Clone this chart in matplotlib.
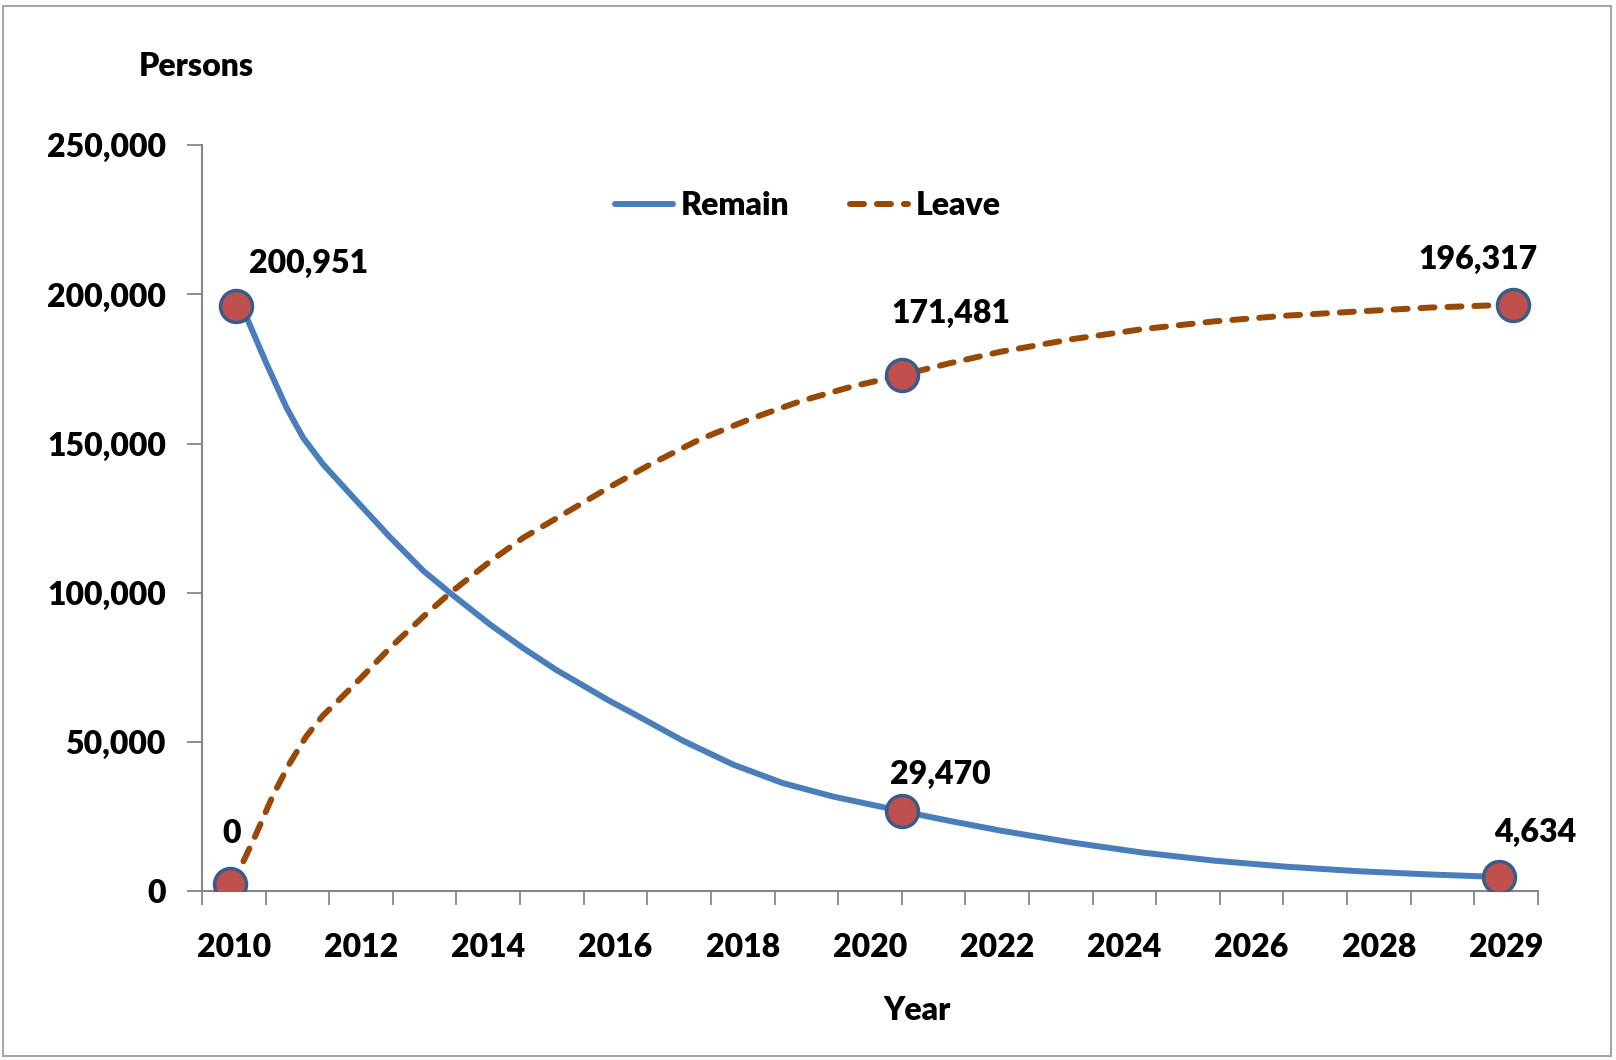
import matplotlib.pyplot as plt
from matplotlib.patches import Rectangle

plt.rcParams['font.family'] = ['Lato', 'DejaVu Sans']
plt.rcParams['font.weight'] = 'heavy'

# category axis: 21 slots, labels every second slot
tick_pos = [0, 2, 4, 6, 8, 10, 12, 14, 16, 18, 20]
tick_labels = ['2010', '2012', '2014', '2016', '2018', '2020',
               '2022', '2024', '2026', '2028', '2029']

# smooth curves (x in category units)
remain_x = [0.04, 0.22, 0.51, 0.83, 1.09, 1.40, 1.93, 2.45, 2.98, 3.40, 4.03,
            4.55, 5.07, 5.91, 6.28, 7.06, 7.85, 8.63, 9.42, 10.5, 11.26,
            12.05, 13.17, 14.29, 15.42, 16.54, 17.66, 18.79, 19.88]
remain_y = [196000, 191400, 177000, 162000, 152000, 143200, 130800, 118800,
            107400, 100000, 89400, 81500, 74200, 63800, 59600, 50500, 42500,
            36300, 31800, 26900, 23600, 20400, 16400, 13000, 10300, 8300,
            6800, 5700, 4860]

leave_x = [-0.065, 0.09, 0.35, 0.62, 0.88, 1.14, 1.40, 1.67, 2.03, 2.45, 2.98,
           3.40, 4.03, 4.55, 5.07, 5.91, 6.54, 7.33, 8.12, 8.90, 9.69, 10.5,
           11.26, 12.05, 13.17, 14.29, 15.42, 16.54, 17.66, 18.79, 20.11]
leave_y = [2400, 7300, 19200, 32400, 43000, 52000, 58900, 64500, 72200, 81500,
           92100, 100000, 110600, 118500, 125000, 135500, 143000, 151500,
           158300, 164200, 169000, 173000, 177000, 180800, 185000, 188400,
           191000, 192900, 194300, 195600, 196600]

# highlighted points and their labels
pt_x = [0.04, -0.065, 10.5, 10.5, 19.88, 20.11]
pt_y = [196000, 2400, 173000, 26900, 4860, 196600]
pt_text = ['200,951', '0', '171,481', '29,470', '4,634', '196,317']
pt_offset = [(72, 43), (2, 51), (49, 62), (39, 37), (37, 44), (-35, 45)]

fig = plt.figure(figsize=(16.16, 10.6), dpi=100)
fig.patches.append(Rectangle((0.002, 0.004), 0.995, 0.99, transform=fig.transFigure,
                             fill=False, edgecolor='#a6a6a6', linewidth=1.5))
ax = fig.add_axes([0.125, 0.159, 0.8267, 0.704])

ax.plot(remain_x, remain_y, color='#4a7ebb', linewidth=4.3,
        solid_capstyle='round', solid_joinstyle='round', label='Remain', zorder=2)
ax.plot(leave_x, leave_y, color='#984807', linewidth=4.3,
        linestyle=(0, (2.35, 2.16)), dash_capstyle='round', label='Leave', zorder=2)

ax.plot(pt_x, pt_y, 'o', markersize=23, markerfacecolor='#c0504d',
        markeredgecolor='#385d8a', markeredgewidth=2.5, linestyle='none', zorder=3)

for x, y, t, off in zip(pt_x, pt_y, pt_text, pt_offset):
    ax.annotate(t, (x, y), xytext=off, textcoords='offset pixels',
                ha='center', va='center', fontsize=23)

ax.set_xlim(-0.5, 20.5)
ax.set_ylim(0, 250000)

ax.set_xticks([i - 0.5 for i in range(22)])
ax.set_xticklabels([])
ax.set_xticks(tick_pos, minor=True)
ax.set_xticklabels(tick_labels, minor=True, fontsize=23)
ax.tick_params(axis='x', which='major', length=10, width=1.3, color='#868686', direction='out')
ax.tick_params(axis='x', which='minor', length=0, pad=30)

ax.set_yticks([0, 50000, 100000, 150000, 200000, 250000])
ax.set_yticklabels(['0', '50,000', '100,000', '150,000', '200,000', '250,000'],
                   fontsize=23)
ax.tick_params(axis='y', length=11, width=1.3, color='#868686', pad=15)

for s in ['top', 'right']:
    ax.spines[s].set_visible(False)
for s in ['left', 'bottom']:
    ax.spines[s].set_color('#868686')
    ax.spines[s].set_linewidth(1.5)

fig.text(196 / 1616, 1 - 67 / 1060, 'Persons', ha='center', va='center', fontsize=23)
fig.text(917 / 1616, 1 - 1010 / 1060, 'Year', ha='center', va='center', fontsize=23)

ax.legend(loc='center', bbox_to_anchor=(0.4536, 0.919), ncol=2, frameon=False,
          fontsize=23, handlelength=1.8, handletextpad=0.25, columnspacing=1.9)

fig.savefig('out.png', dpi=100, facecolor='white')
